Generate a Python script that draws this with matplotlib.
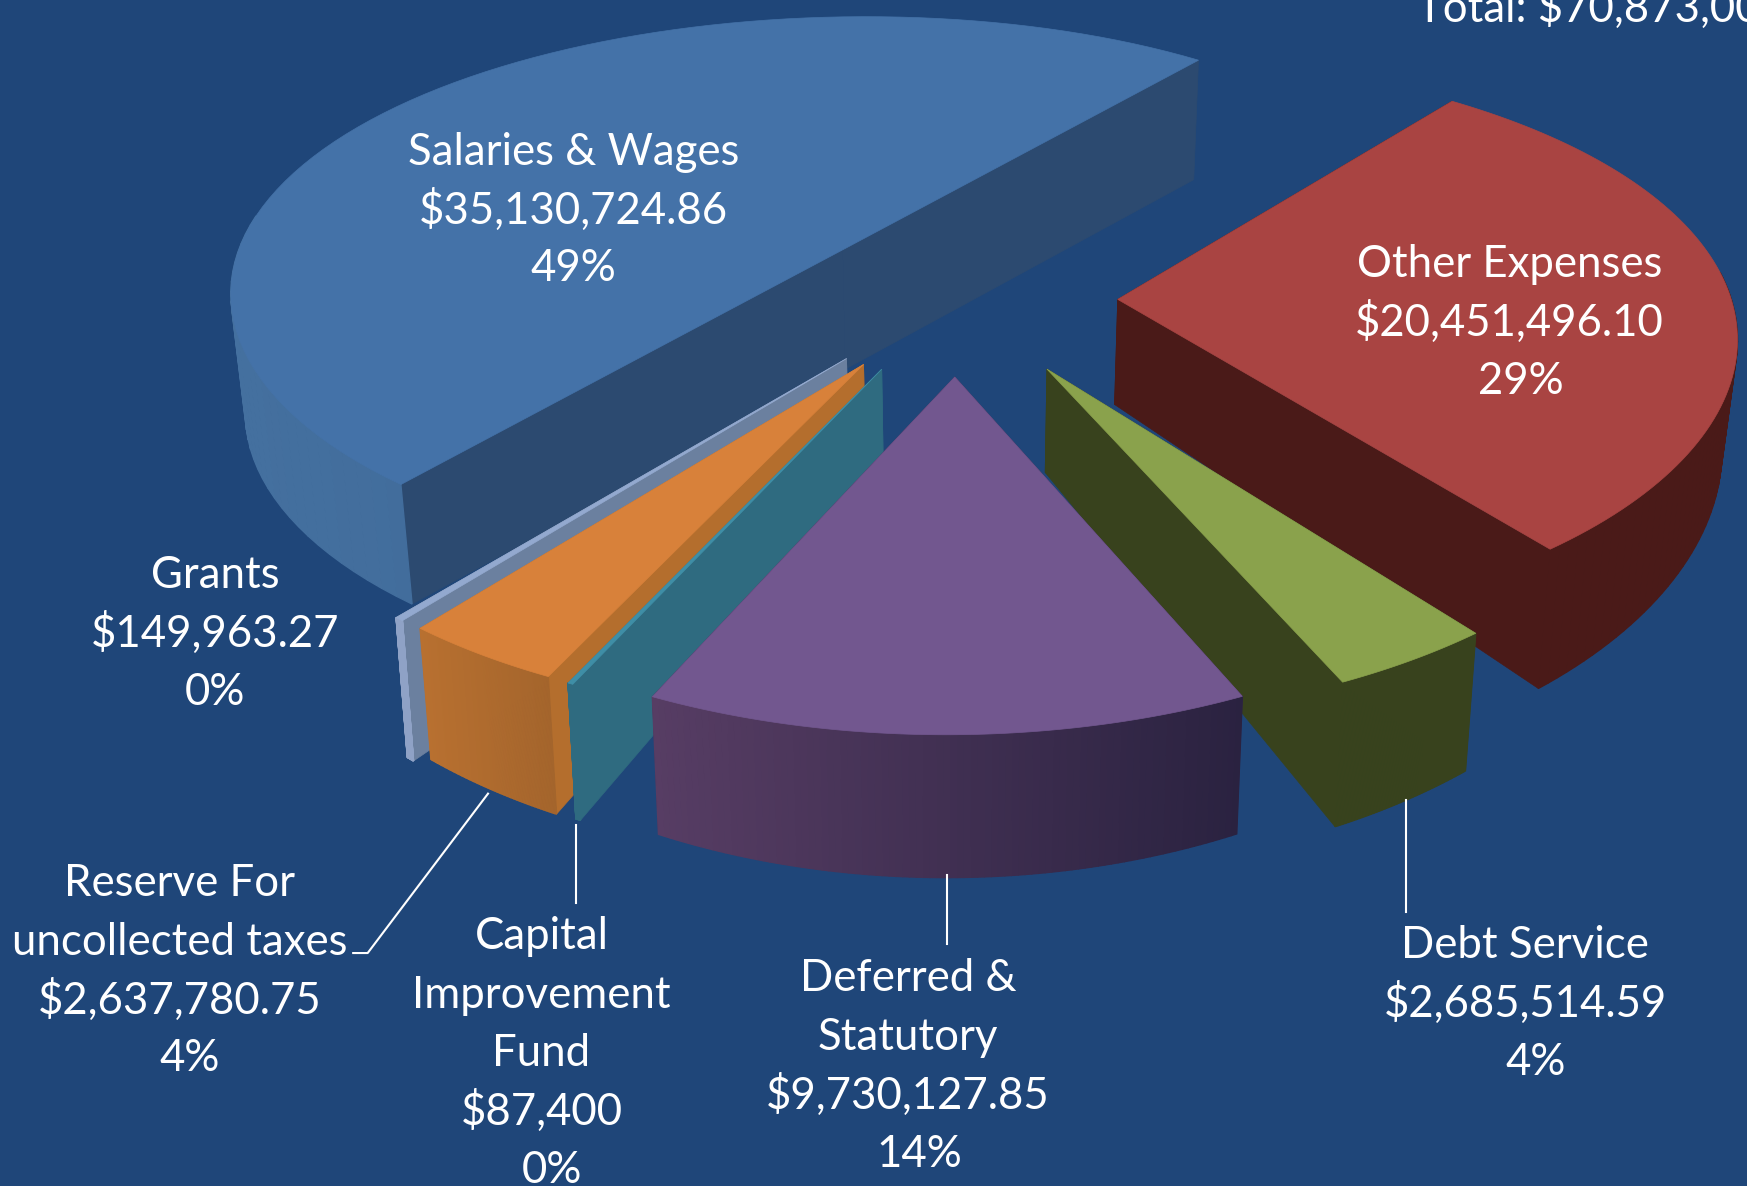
import numpy as np
import matplotlib
matplotlib.use("Agg")
import matplotlib.pyplot as plt

# slices, clockwise from the back edge of Other Expenses
names = ["Other Expenses", "Debt Service", "Deferred & Statutory", "Capital Improvement Fund",
         "Reserve For uncollected taxes", "Grants", "Salaries & Wages"]
values = [20451496.10, 2685514.59, 9730127.85, 87400, 2637780.75, 149963.27, 35130724.86]

top_cols = ["#a94442", "#8aa24c", "#72578f", "#3f8ea6", "#d8813a", "#93a9cf", "#4472a8"]
side_cols = ["#4a1a18", "#38421d", "#3a2a52", "#2f6b80", "#b46e2d", "#6b809f", "#2c4a70"]
arc_left = ["#4a1a18", "#38421d", "#573d64", "#2f6b80", "#b87030", "#8fa2c6", "#44709f"]
arc_right = ["#4a1a18", "#38421d", "#2a2240", "#2f6b80", "#a4652c", "#8fa2c6", "#3a6190"]
height_scale = [1.18, 1.07, 1.0, 1.0, 1.02, 1.1, 1.34]
height_pow = [2.2, 2.2, 2.2, 2.2, 2.2, 2.2, 0.0]
radius = [1.02, 1.0, 1.005, 1.0, 1.0, 1.0, 1.025]
nudge_x = [-10, -2, -3, -3, -3, -3, 9]
nudge_y = [3, 4, 0, 0, 0, 0, 0]
draw_order = [6, 0, 5, 4, 3, 1, 2]

label_lines = [
    ["Salaries & Wages", "$35,130,724.86", "49%"],
    ["Other Expenses", "$20,451,496.10", "29%"],
    ["Grants", "$149,963.27", "0%"],
    ["Reserve For", "uncollected taxes", "$2,637,780.75", "4%"],
    ["Capital", "Improvement", "Fund", "$87,400", "0%"],
    ["Deferred &", "Statutory", "$9,730,127.85", "14%"],
    ["Debt Service", "$2,685,514.59", "4%"],
]
label_x = [[515] * 3, [1355, 1355, 1365], [193] * 3, [161, 161, 161, 170],
           [486, 486, 486, 486, 495], [815, 815, 815, 825], [1369, 1369, 1378]]
label_y = [[134, 186, 238], [235, 287, 340], [514, 566, 619], [790, 843, 895, 947],
           [838, 891, 943, 995, 1048], [875, 928, 980, 1033], [846, 898, 951]]
leaders = [([438, 330, 317], [712, 855, 855]), ([517, 517], [740, 810]),
           ([850, 850], [785, 847]), ([1262, 1262], [718, 818])]

bg = "#1f4679"
x0, y0, A, B, persp, persp_x, skew = 862, 266, 540, 247, 0.15, 0.12, 8
H = 80
explode = 0.28
start = 37.7

plt.rcParams['font.family'] = ['Lato', 'DejaVu Sans']
fig = plt.figure(figsize=(17.47, 11.86), dpi=100, facecolor=bg)
ax = fig.add_axes([0, 0, 1, 1])
ax.set_xlim(0, 1568)
ax.set_ylim(1064, 0)
ax.axis("off")


def proj(X, Y, i):
    w = 1 + persp * Y
    return x0 + A * X / (1 + persp_x * Y) + skew * Y + nudge_x[i], y0 - B * Y / w + nudge_y[i], w


def drop(sx, sy, w, i):
    return x0 + (sx - x0) * 0.98, sy + H * height_scale[i] / w ** height_pow[i]


def mix(c1, c2, t):
    a = np.array(matplotlib.colors.to_rgb(c1))
    b = np.array(matplotlib.colors.to_rgb(c2))
    return a + (b - a) * t


frac = np.array(values) / np.sum(values)
ends = start + np.cumsum(frac) * 360
starts = ends - frac * 360

for i in draw_order:
    t1, t2 = np.radians(starts[i]), np.radians(ends[i])
    mid = (t1 + t2) / 2
    ex, ey = explode * np.sin(mid), explode * np.cos(mid)
    th = np.linspace(t1, t2, 90)
    Xa = ex + radius[i] * np.sin(th)
    Ya = ey + radius[i] * np.cos(th)
    sx, sy, w = proj(Xa, Ya, i)
    bx, by = drop(sx, sy, w, i)
    cx, cy, cw = proj(ex, ey, i)
    cbx, cby = drop(cx, cy, cw, i)

    # flat cut faces, the one further back first
    faces = [(sx[0], sy[0], bx[0], by[0]), (sx[-1], sy[-1], bx[-1], by[-1])]
    faces.sort(key=lambda f: f[1])
    for f in faces:
        ax.fill([cx, f[0], f[2], cbx], [cy, f[1], f[3], cby], color=side_cols[i], lw=0.5)

    # outer wall in thin strips so that it can shade from left to right
    lo, hi = sx.min(), sx.max()
    for j in range(len(th) - 1):
        if np.cos(th[j]) > 0.1:
            continue  # faces away from the viewer
        t = ((sx[j] + sx[j + 1]) / 2 - lo) / max(hi - lo, 1)
        col = mix(arc_left[i], arc_right[i], t)
        ax.fill([sx[j], sx[j + 1], bx[j + 1], bx[j]], [sy[j], sy[j + 1], by[j + 1], by[j]],
                color=col, lw=1)

    ax.fill(np.r_[cx, sx], np.r_[cy, sy], color=top_cols[i], lw=0.5)

for lx, ly in leaders:
    ax.plot(lx, ly, color="white", lw=1.5)

for xs, ys, lines in zip(label_x, label_y, label_lines):
    for lx, ly, s in zip(xs, ys, lines):
        ax.text(lx, ly + 2.5, s, color="white", fontsize=31.5, ha="center", va="center")

ax.text(1272, 20, "Total: $70,873,007.42", color="white", fontsize=31.5, ha="left", va="baseline")

fig.savefig("out.png", facecolor=bg)
